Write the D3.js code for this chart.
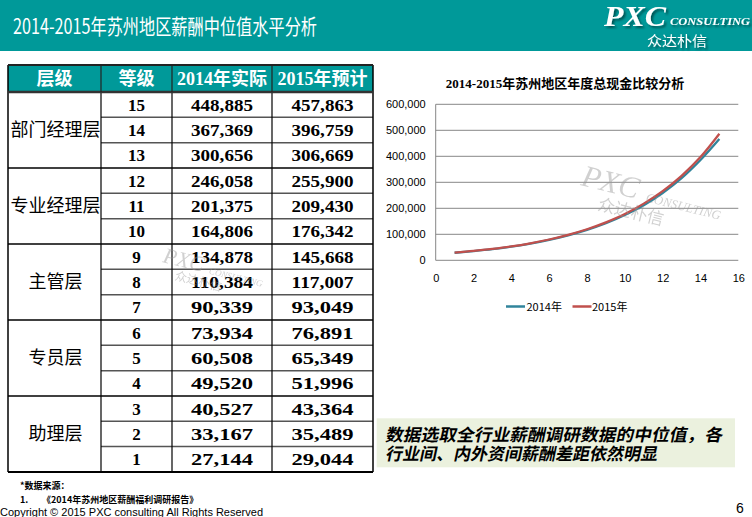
<!DOCTYPE html>
<html><head><meta charset="utf-8">
<script src="https://cdn.jsdelivr.net/npm/d3@7"></script>
<style>
html,body{margin:0;padding:0;background:#fff;}
svg{display:block;}
</style></head>
<body>
<svg id="s" width="752" height="517"></svg>
<script>
// ---- table data ----
const levels = ["部门经理层","专业经理层","主管层","专员层","助理层"];
const grades = [15,14,13,12,11,10,9,8,7,6,5,4,3,2,1];
const actual2014 = [448885,367369,300656,246058,201375,164806,134878,110384,90339,73934,60508,49520,40527,33167,27144];
const forecast2015 = [457863,396759,306669,255900,209430,176342,145668,117007,93049,76891,65349,51996,43364,35489,29044];
const headers = ["层级","等级","2014年实际","2015年预计"];
// ---- chart data ----
const chartX = [1,2,3,4,5,6,7,8,9,10,11,12,13,14,15];
const chart2014 = [29000,35500,43000,52500,64000,78500,96000,117000,142500,174000,212000,259000,316000,386000,467000];
const chart2015 = [29500,36000,44000,53500,65500,80000,98000,119500,146000,178000,218000,266000,325000,397000,487000];
const seriesNames = ["2014年","2015年"];
const yTicks = [0,100000,200000,300000,400000,500000,600000];
const xTicks = [0,2,4,6,8,10,12,14,16];

const svg = d3.select("#s");
const teal = "#009999";
const cjk = "'Noto Sans CJK SC', sans-serif";
const serif = "'Liberation Serif','Noto Sans CJK SC', serif";

const defs = svg.append("defs");
const f = defs.append("filter").attr("id","sh").attr("x","-10%").attr("y","-10%").attr("width","130%").attr("height","140%");
f.append("feDropShadow").attr("dx",2).attr("dy",2).attr("stdDeviation",0.8).attr("flood-color","#000").attr("flood-opacity",0.45);

// header band
svg.append("rect").attr("x",0).attr("y",0).attr("width",752).attr("height",51).attr("fill",teal);
svg.append("text").attr("x",13).attr("y",34).attr("fill","#fff")
  .attr("font-family",cjk).attr("font-size",21)
  .attr("textLength",304).attr("lengthAdjust","spacingAndGlyphs")
  .text("2014-2015年苏州地区薪酬中位值水平分析");
// logo
const logo = svg.append("g").attr("filter","url(#sh)");
logo.append("text").attr("x",604).attr("y",26).attr("fill","#fff")
  .attr("font-family","'Liberation Serif',serif").attr("font-weight","bold").attr("font-style","italic")
  .attr("font-size",30).attr("textLength",62).attr("lengthAdjust","spacingAndGlyphs").text("PXC");
logo.append("text").attr("x",670).attr("y",25).attr("fill","#fff")
  .attr("font-family","'Liberation Serif',serif").attr("font-weight","bold").attr("font-style","italic")
  .attr("font-size",10).attr("textLength",80).attr("lengthAdjust","spacingAndGlyphs").text("CONSULTING");
logo.append("text").attr("x",647).attr("y",46).attr("fill","#fff")
  .attr("font-family",cjk).attr("font-size",14).attr("textLength",60).attr("lengthAdjust","spacingAndGlyphs").text("众达朴信");

// ---- table ----
const colX = [8,101,172,272,373];
const tTop = 65, headH = 27, rowH = 25.33;
const rowY = i => tTop + headH + i*rowH;
const tb = svg.append("g");
tb.append("rect").attr("x",colX[0]).attr("y",tTop).attr("width",colX[4]-colX[0]).attr("height",headH).attr("fill",teal);
headers.forEach((h,i)=>{
  tb.append("text").attr("x",(colX[i]+colX[i+1])/2).attr("y",tTop+headH/2+6)
    .attr("text-anchor","middle").attr("fill","#fff").attr("font-family",serif)
    .attr("font-weight","bold").attr("font-size",18).text(h);
});
// watermark
const wm = (x,y,s,op)=>{
  const g = svg.append("g").attr("transform",`translate(${x},${y}) rotate(14) scale(${s})`).attr("opacity",op);
  g.append("text").attr("x",0).attr("y",0).attr("font-family","'Liberation Serif',serif").attr("font-style","italic")
   .attr("font-size",22).attr("fill","#999").text("PXC");
  g.append("text").attr("x",48).attr("y",0).attr("font-family","'Liberation Serif',serif").attr("font-style","italic")
   .attr("font-size",9).attr("fill","#999").text("CONSULTING");
  g.append("text").attr("x",16).attr("y",14).attr("font-family",cjk)
   .attr("font-size",12).attr("fill","#999").text("众达朴信");
};
wm(162,262,1,0.45);
// rows
grades.forEach((g,i)=>{
  const cy = rowY(i)+rowH/2+6;
  tb.append("text").attr("x",(colX[1]+colX[2])/2).attr("y",cy).attr("text-anchor","middle")
    .attr("font-family",serif).attr("font-weight","bold").attr("font-size",17).text(g);
  tb.append("text").attr("x",(colX[2]+colX[3])/2).attr("y",cy).attr("text-anchor","middle")
    .attr("font-family",serif).attr("font-weight","bold").attr("font-size",17)
    .attr("textLength",62).attr("lengthAdjust","spacingAndGlyphs").text(d3.format(",")(actual2014[i]));
  tb.append("text").attr("x",(colX[3]+colX[4])/2).attr("y",cy).attr("text-anchor","middle")
    .attr("font-family",serif).attr("font-weight","bold").attr("font-size",17)
    .attr("textLength",62).attr("lengthAdjust","spacingAndGlyphs").text(d3.format(",")(forecast2015[i]));
});
levels.forEach((l,k)=>{
  const cy = rowY(k*3)+rowH*1.5+6;
  tb.append("text").attr("x",(colX[0]+colX[1])/2+1).attr("y",cy).attr("text-anchor","middle")
    .attr("font-family",cjk).attr("font-size",18).attr("fill","#000").text(l);
});
// inner horizontal lines
for(let i=1;i<15;i++){
  const yy = rowY(i);
  const group = i%3===0;
  tb.append("line").attr("x1",group?colX[0]:colX[1]).attr("x2",colX[4]).attr("y1",yy).attr("y2",yy)
    .attr("stroke",group?"#000":"#555").attr("stroke-width",1.5);
}
// vertical lines
colX.forEach((xx,i)=>{
  tb.append("line").attr("x1",xx).attr("x2",xx).attr("y1",i===0||i===4?tTop:tTop+headH).attr("y2",rowY(15))
    .attr("stroke","#000").attr("stroke-width",i===0||i===4?1.5:1.2);
});
tb.append("line").attr("x1",colX[0]).attr("x2",colX[4]).attr("y1",tTop).attr("y2",tTop).attr("stroke","#222").attr("stroke-width",2);
tb.append("line").attr("x1",colX[0]).attr("x2",colX[4]).attr("y1",tTop+headH).attr("y2",tTop+headH).attr("stroke","#333").attr("stroke-width",2.5);
[1,2,3].forEach(i=>tb.append("line").attr("x1",colX[i]).attr("x2",colX[i]).attr("y1",tTop).attr("y2",tTop+headH).attr("stroke","#222").attr("stroke-width",1.2));
tb.append("line").attr("x1",colX[0]).attr("x2",colX[4]).attr("y1",rowY(15)).attr("y2",rowY(15)).attr("stroke","#000").attr("stroke-width",2);

// ---- chart ----
const px0=435.7, px1=738.3, py0=260.3, py1=104.3;
const x = d3.scaleLinear().domain([0,16]).range([px0,px1]);
const y = d3.scaleLinear().domain([0,600000]).range([py0,py1]);
const ch = svg.append("g");
ch.append("text").attr("x",565).attr("y",88).attr("text-anchor","middle")
  .attr("font-family",serif).attr("font-weight","bold").attr("font-size",13).text("2014-2015年苏州地区年度总现金比较分析");
yTicks.forEach(t=>{
  ch.append("line").attr("x1",px0).attr("x2",px1).attr("y1",y(t)).attr("y2",y(t)).attr("stroke","#878787").attr("stroke-width",1);
});
ch.append("line").attr("x1",px0).attr("x2",px0).attr("y1",py1).attr("y2",py0).attr("stroke","#878787");
const yAxis = d3.axisLeft(y).tickValues(yTicks).tickFormat(d3.format(",")).tickSize(0).tickPadding(10);
const ya = ch.append("g").attr("transform",`translate(${px0},0)`).call(yAxis);
ya.select(".domain").remove();
ya.selectAll("text").attr("font-family","'Liberation Sans',sans-serif").attr("font-size",11).attr("fill","#000");
const xAxis = d3.axisBottom(x).tickValues(xTicks).tickSize(0).tickPadding(14);
const xa = ch.append("g").attr("transform",`translate(0,${py0})`).call(xAxis);
xa.select(".domain").remove();
xa.selectAll("text").attr("font-family","'Liberation Sans',sans-serif").attr("font-size",11).attr("fill","#000");
wm(580,185,1.4,0.45);
const line = d3.line().x((d,i)=>x(chartX[i])).y(d=>y(d)).curve(d3.curveMonotoneX);
const colors = ["#31849B","#C0504D"];
[chart2014,chart2015].forEach((s,k)=>{
  ch.append("path").attr("d",line(s)).attr("fill","none").attr("stroke",colors[k]).attr("stroke-width",2.3);
});
const lg = [[506,526.5],[572.5,592]];
seriesNames.forEach((n,k)=>{
  ch.append("line").attr("x1",lg[k][0]).attr("x2",lg[k][0]+19).attr("y1",306.5).attr("y2",306.5).attr("stroke",colors[k]).attr("stroke-width",2.5);
  ch.append("text").attr("x",lg[k][1]).attr("y",311).attr("font-family",cjk).attr("font-size",11).text(n);
});

// ---- callout ----
svg.append("rect").attr("x",376.7).attr("y",418.3).attr("width",358.3).attr("height",49).attr("fill","#EBF1DE");
const co = ["数据选取全行业薪酬调研数据的中位值，各","行业间、内外资间薪酬差距依然明显"];
co.forEach((t,i)=>{
  svg.append("text").attr("transform",`translate(385,${441+i*19}) skewX(-12)`)
    .attr("font-family",cjk).attr("font-weight","bold").attr("font-size",17)
    .attr("textLength",i===0?337:null).attr("lengthAdjust","spacingAndGlyphs").text(t);
});

// ---- footer ----
svg.append("text").attr("x",20).attr("y",488.5).attr("font-family",cjk).attr("font-weight","bold").attr("font-size",9).text("*数据来源：");
svg.append("text").attr("x",20).attr("y",502.8).attr("font-family",cjk).attr("font-weight","bold").attr("font-size",9).text("1.");
svg.append("text").attr("x",42).attr("y",502.8).attr("font-family",cjk).attr("font-weight","bold").attr("font-size",9).text("《2014年苏州地区薪酬福利调研报告》");
svg.append("text").attr("x",0).attr("y",516).attr("font-family","'Liberation Sans',sans-serif").attr("font-size",11)
  .attr("textLength",263).attr("lengthAdjust","spacingAndGlyphs").text("Copyright © 2015 PXC consulting All Rights Reserved");
svg.append("text").attr("x",736).attr("y",513).attr("font-family","'Liberation Sans',sans-serif").attr("font-size",14).text("6");
</script>
</body></html>
